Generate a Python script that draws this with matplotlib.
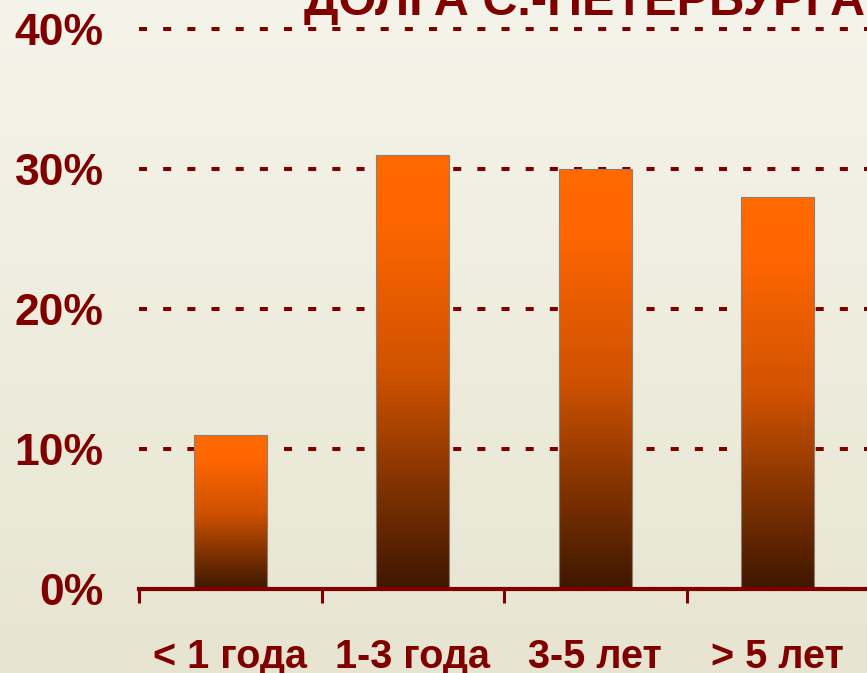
import numpy as np
import matplotlib
matplotlib.use("Agg")
import matplotlib.pyplot as plt
from matplotlib.colors import LinearSegmentedColormap

categories = ["< 1 года", "1-3 года", "3-5 лет", "> 5 лет"]
values = [11.0, 31.0, 30.0, 28.0]
yticks = [0, 10, 20, 30, 40]
ytick_labels = ["0%", "10%", "20%", "30%", "40%"]
title = "ДОЛГА С.-ПЕТЕРБУРГА"

W, H = 867, 673
DPI = 100
maroon = "#800000"
plt.rcParams['font.family'] = ['Liberation Sans', 'DejaVu Sans']

fig = plt.figure(figsize=(W / DPI, H / DPI), dpi=DPI)

# background gradient
bg = fig.add_axes([0, 0, 1, 1], zorder=-10)
bg_cmap = LinearSegmentedColormap.from_list("bg", ["#F5F4EA", "#E7E5D1"])
bg.imshow(np.linspace(0, 1, 256).reshape(-1, 1), aspect='auto', cmap=bg_cmap,
          extent=[0, 1, 0, 1], origin='upper')
bg.axis('off')

left, right = 139, 869
top, bottom = 29, 589
ax = fig.add_axes([left / W, (H - bottom) / H, (right - left) / W, (bottom - top) / H])
ax.patch.set_alpha(0)

x = np.arange(len(categories))
bars = ax.bar(x, values, width=0.4, color='none', edgecolor='#8C7E70', linewidth=0.8, zorder=3)

bar_cmap = LinearSegmentedColormap.from_list(
    "bar", [(0.0, "#FF6A00"), (0.15, "#FF6600"), (0.5, "#D05200"),
            (0.75, "#853400"), (1.0, "#3E1700")])
grad = np.linspace(0, 1, 256).reshape(-1, 1)
for b in bars:
    bx, by, bw, bh = b.get_x(), b.get_y(), b.get_width(), b.get_height()
    im = ax.imshow(grad, aspect='auto', cmap=bar_cmap, origin='upper',
                   extent=[bx, bx + bw, by, by + bh], zorder=2)
    im.set_clip_path(b)

ax.set_xlim(-0.5, len(categories) - 0.5)
ax.set_ylim(0, 40)

ax.set_yticks(yticks)
ax.set_yticklabels(ytick_labels)
ax.yaxis.grid(True, color=maroon, linewidth=2.9, linestyle=(0, (2.0, 4.0)), zorder=1)
for gl in ax.yaxis.get_gridlines():
    gl.set_clip_on(False)
ax.set_axisbelow(True)
ax.tick_params(axis='y', length=0, pad=25.5, labelsize=32, labelcolor=maroon)
for lab in ax.get_yticklabels():
    lab.set_fontweight('bold')

ax.set_xticks(np.arange(-0.5, len(categories) + 0.5, 1.0))
ax.set_xticklabels([])
ax.set_xticks(x, minor=True)
ax.set_xticklabels(categories, minor=True)
ax.tick_params(axis='x', which='major', length=10, width=2.2, color=maroon, direction='out')
ax.tick_params(axis='x', which='minor', length=0, pad=35, labelsize=28.5, labelcolor=maroon)
for lab in ax.get_xticklabels(minor=True):
    lab.set_fontweight('bold')

for s in ['left', 'right', 'top']:
    ax.spines[s].set_visible(False)
ax.spines['bottom'].set_color(maroon)
ax.spines['bottom'].set_linewidth(3)
ax.spines['bottom'].set_zorder(4)

fig.text(304 / W, 1 - 15 / H, title, color=maroon, fontsize=35, fontweight='bold',
         ha='left', va='baseline')

fig.savefig("out.png", dpi=DPI)
